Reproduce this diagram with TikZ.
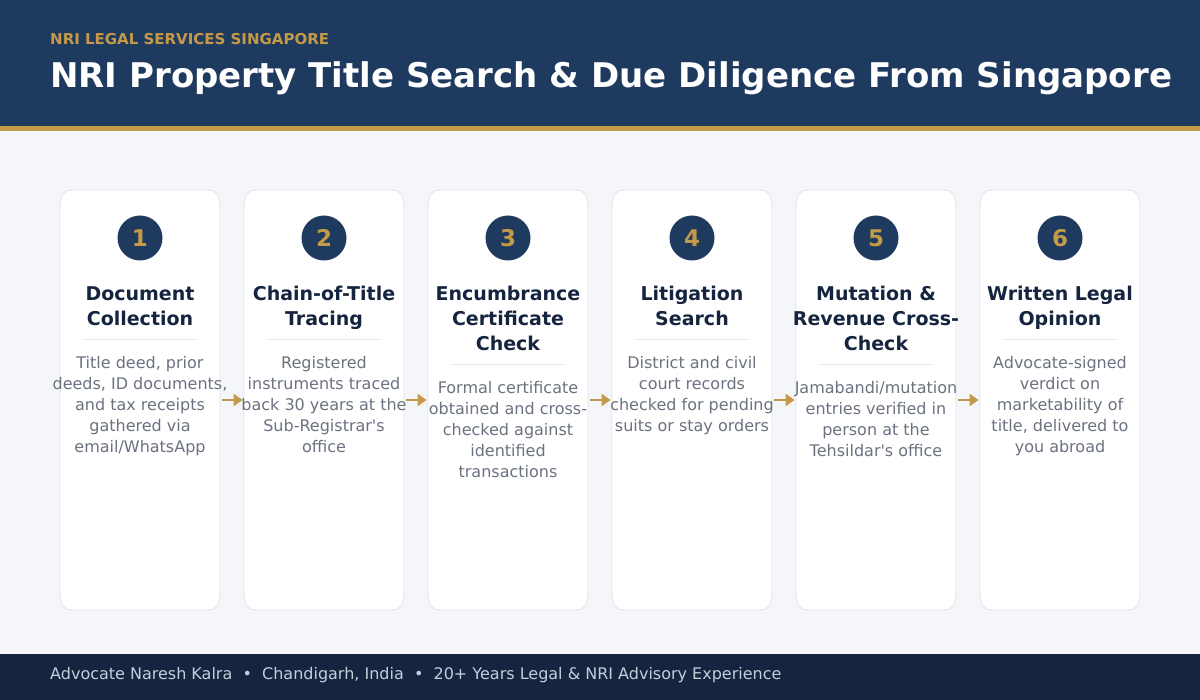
\documentclass[tikz,border=0pt]{standalone}
\usepackage{fontspec}
\setmainfont{DejaVu Sans}
\usetikzlibrary{arrows.meta}
\definecolor{navy}{HTML}{1F3A5F}
\definecolor{darknavy}{HTML}{15243F}
\definecolor{gold}{HTML}{C49A48}
\definecolor{bgpage}{HTML}{F5F6FA}
\definecolor{cardline}{HTML}{DDE1EA}
\definecolor{sepline}{HTML}{E5E7EB}
\definecolor{desc}{HTML}{6B7280}
\definecolor{foot}{HTML}{C5CDD9}
\tikzset{
  card/.style={draw=cardline, line width=0.8pt, fill=white, rounded corners=12pt, minimum width=160pt, minimum height=420pt, inner sep=0pt},
  badge/.style={circle, fill=navy, minimum size=45pt, inner sep=0pt, text=gold, font=\fontsize{23}{26}\selectfont\bfseries},
  ctitle/.style={anchor=north, align=center, inner sep=0pt, text=darknavy, font=\fontsize{19}{25}\selectfont\bfseries},
  cdesc/.style={anchor=north, align=center, inner sep=0pt, text=desc, font=\fontsize{16}{21}\selectfont},
  sep/.style={draw=sepline, line width=1pt},
  flow/.style={draw=gold, line width=2.5pt, -{Triangle[length=9pt,width=12pt]}, shorten <=2pt, shorten >=1pt},
}
\begin{document}
\begin{tikzpicture}[x=1pt,y=-1pt]
\useasboundingbox (0,0) rectangle (1200,700);
\fill[bgpage] (0,0) rectangle (1200,700);
\fill[navy] (0,0) rectangle (1200,126);
\fill[gold] (0,126) rectangle (1200,131);
\fill[darknavy] (0,654) rectangle (1200,700);
\node[anchor=base west, inner sep=0pt, text=gold, font=\fontsize{15}{16}\selectfont\bfseries] (sub) at (50,45) {NRI LEGAL SERVICES SINGAPORE};
\node[anchor=base west, inner sep=0pt, text=white, font=\fontsize{34}{40}\selectfont\bfseries] (title) at (50,88) {NRI Property Title Search \& Due Diligence From Singapore};
\node[anchor=base west, inner sep=0pt, text=foot, font=\fontsize{16}{18}\selectfont] (footer) at (50,679) {Advocate Naresh Kalra\ \ •\ \ Chandigarh, India\ \ •\ \ 20+ Years Legal \& NRI Advisory Experience};
\foreach \i/\cx/\ttl/\nl/\dsc in {
 1/140/{Document\\Collection}/2/{Title deed, prior\\deeds, ID documents,\\and tax receipts\\gathered via\\email/WhatsApp},
 2/324/{Chain-of-Title\\Tracing}/2/{Registered\\instruments traced\\back 30 years at the\\Sub-Registrar\textquotesingle s\\office},
 3/508/{Encumbrance\\Certificate\\Check}/3/{Formal certificate\\obtained and cross-\\checked against\\identified\\transactions},
 4/692/{Litigation\\Search}/2/{District and civil\\court records\\checked for pending\\suits or stay orders},
 5/876/{Mutation \&\\Revenue Cross-\\Check}/3/{Jamabandi/mutation\\entries verified in\\person at the\\Tehsildar\textquotesingle s office},
 6/1060/{Written Legal\\Opinion}/2/{Advocate-signed\\verdict on\\marketability of\\title, delivered to\\you abroad}}{
  \node[card] (c\i) at (\cx,400) {};
  \node[badge] (b\i) at (\cx,238) {\i};
  \node[ctitle] (t\i) at (\cx,286) {\ttl};
  \pgfmathsetmacro{\sy}{340+25*(\nl-2)}
  \draw[sep] (\cx-56,\sy) coordinate (sl\i) -- (\cx+57,\sy) coordinate (sr\i);
  \node[cdesc] (d\i) at (\cx,\sy+16.5) {\dsc};
}
\foreach \a/\b in {1/2,2/3,3/4,4/5,5/6}{
  \draw[flow] (c\a.east) -- (c\b.west);
}
\end{tikzpicture}
\end{document}
